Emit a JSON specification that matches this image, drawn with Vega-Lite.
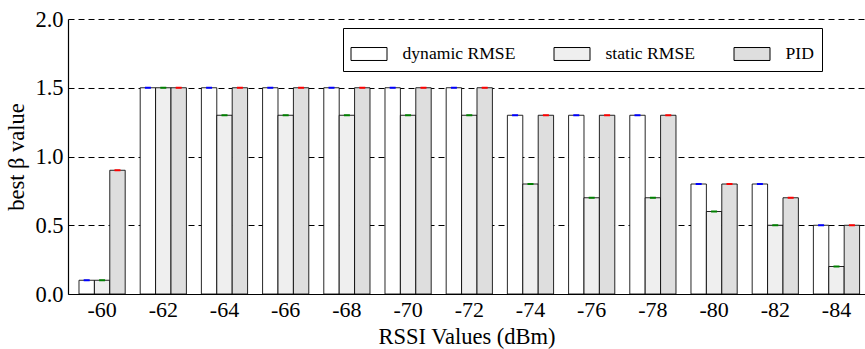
{
  "$schema": "https://vega.github.io/schema/vega-lite/v6.json",
  "autosize": {"type": "none"},
  "padding": {"left": 68, "top": 19, "right": 0, "bottom": 55},
  "width": 797,
  "height": 275,
  "background": "white",
  "config": {
    "font": "Liberation Serif",
    "view": {"stroke": null},
    "axis": {"labelFont": "Liberation Serif", "titleFont": "Liberation Serif", "labelColor": "black", "titleColor": "black", "titleFontWeight": "normal"},
    "legend": {"labelFont": "Liberation Serif", "labelFontSize": 17.6}
  },
  "data": {
    "values": [
      {"rssi": -60, "series": "dynamic RMSE", "value": 0.1},
      {"rssi": -60, "series": "static RMSE", "value": 0.1},
      {"rssi": -60, "series": "PID", "value": 0.9},
      {"rssi": -62, "series": "dynamic RMSE", "value": 1.5},
      {"rssi": -62, "series": "static RMSE", "value": 1.5},
      {"rssi": -62, "series": "PID", "value": 1.5},
      {"rssi": -64, "series": "dynamic RMSE", "value": 1.5},
      {"rssi": -64, "series": "static RMSE", "value": 1.3},
      {"rssi": -64, "series": "PID", "value": 1.5},
      {"rssi": -66, "series": "dynamic RMSE", "value": 1.5},
      {"rssi": -66, "series": "static RMSE", "value": 1.3},
      {"rssi": -66, "series": "PID", "value": 1.5},
      {"rssi": -68, "series": "dynamic RMSE", "value": 1.5},
      {"rssi": -68, "series": "static RMSE", "value": 1.3},
      {"rssi": -68, "series": "PID", "value": 1.5},
      {"rssi": -70, "series": "dynamic RMSE", "value": 1.5},
      {"rssi": -70, "series": "static RMSE", "value": 1.3},
      {"rssi": -70, "series": "PID", "value": 1.5},
      {"rssi": -72, "series": "dynamic RMSE", "value": 1.5},
      {"rssi": -72, "series": "static RMSE", "value": 1.3},
      {"rssi": -72, "series": "PID", "value": 1.5},
      {"rssi": -74, "series": "dynamic RMSE", "value": 1.3},
      {"rssi": -74, "series": "static RMSE", "value": 0.8},
      {"rssi": -74, "series": "PID", "value": 1.3},
      {"rssi": -76, "series": "dynamic RMSE", "value": 1.3},
      {"rssi": -76, "series": "static RMSE", "value": 0.7},
      {"rssi": -76, "series": "PID", "value": 1.3},
      {"rssi": -78, "series": "dynamic RMSE", "value": 1.3},
      {"rssi": -78, "series": "static RMSE", "value": 0.7},
      {"rssi": -78, "series": "PID", "value": 1.3},
      {"rssi": -80, "series": "dynamic RMSE", "value": 0.8},
      {"rssi": -80, "series": "static RMSE", "value": 0.6},
      {"rssi": -80, "series": "PID", "value": 0.8},
      {"rssi": -82, "series": "dynamic RMSE", "value": 0.8},
      {"rssi": -82, "series": "static RMSE", "value": 0.5},
      {"rssi": -82, "series": "PID", "value": 0.7},
      {"rssi": -84, "series": "dynamic RMSE", "value": 0.5},
      {"rssi": -84, "series": "static RMSE", "value": 0.2},
      {"rssi": -84, "series": "PID", "value": 0.5}
    ]
  },
  "encoding": {
    "x": {
      "field": "rssi", "type": "ordinal", "sort": "descending",
      "scale": {"paddingInner": 0.245, "paddingOuter": 0.134, "align": 0.67},
      "axis": {
        "title": "RSSI Values (dBm)", "labelAngle": 0, "labelFont": "Liberation Serif", "labelFontSize": 22, "titleFontSize": 22.5, "ticks": false, "labelPadding": 5, "titlePadding": 5, "domainColor": "black", "domainWidth": 1.2,
        "encode": {"labels": {"update": {"fontSize": {"value": 22}, "font": {"value": "Liberation Serif"}}}}
      }
    },
    "xOffset": {
      "field": "series", "type": "nominal",
      "sort": ["dynamic RMSE", "static RMSE", "PID"],
      "scale": {"paddingInner": 0, "paddingOuter": 0}
    },
    "y": {
      "field": "value", "type": "quantitative",
      "scale": {"domain": [0, 2], "nice": false},
      "axis": {
        "title": "best β value", "values": [0, 0.5, 1, 1.5, 2], "format": ".1f", "labelFont": "Liberation Serif", "labelFontSize": 22.5, "titleFontSize": 22.5, "ticks": false, "labelPadding": 5, "titlePadding": 6, "grid": true, "gridColor": "black", "gridDash": [6, 4], "gridWidth": 1, "domainColor": "black", "domainWidth": 1.2,
        "encode": {"labels": {"update": {"fontSize": {"value": 22.5}, "font": {"value": "Liberation Serif"}}}}
      }
    }
  },
  "layer": [
    {
      "mark": {"type": "bar", "stroke": "black", "strokeWidth": 1, "strokeOpacity": 0.85},
      "encoding": {
        "fill": {
          "field": "series", "type": "nominal",
          "scale": {"domain": ["dynamic RMSE", "static RMSE", "PID"], "range": ["#ffffff", "#efefef", "#dedede"]},
          "legend": {
            "title": null, "orient": "none", "legendX": 275, "legendY": 9,
            "direction": "horizontal", "gridAlign": "none",
            "symbolType": "M-1,-0.36H1V0.36H-1Z", "symbolSize": 1296,
            "symbolStrokeColor": "black", "symbolStrokeWidth": 1,
            "labelFont": "Liberation Serif", "labelFontSize": 17.6, "labelColor": "black",
            "labelOffset": 15, "columnPadding": 36,
            "strokeColor": "black", "fillColor": "white", "cornerRadius": 0, "padding": 7.5,
            "encode": {"labels": {"update": {"fontSize": {"value": 17.6}, "font": {"value": "Liberation Serif"}}}}
          }
        }
      }
    },
    {
      "mark": {"type": "tick", "orient": "horizontal", "size": 6, "thickness": 2, "opacity": 1},
      "encoding": {
        "color": {
          "field": "series", "type": "nominal",
          "scale": {"domain": ["dynamic RMSE", "static RMSE", "PID"], "range": ["#0000ff", "#008000", "#ff0000"]},
          "legend": null
        }
      }
    }
  ]
}
